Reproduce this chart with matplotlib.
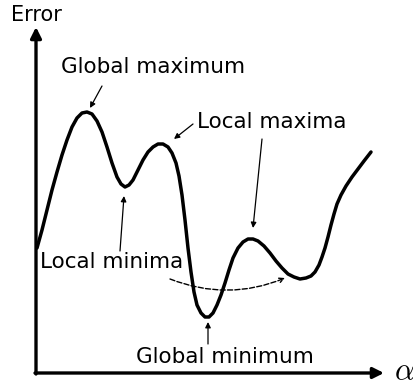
import matplotlib.pyplot as plt

plt.rcParams['mathtext.fontset'] = 'cm'

# curve (pixel-like coordinates, y grows downward)
alpha = [37, 42, 47, 52, 57, 62, 67, 72, 77, 82, 87, 92, 97, 102, 107, 112, 117,
         121, 125, 129, 133, 138, 143, 148, 153, 158, 163, 168, 172, 176, 179,
         182, 185, 188, 191, 194, 197, 201, 205, 209, 213, 217, 221, 225, 229,
         233, 238, 243, 248, 253, 258, 264, 270, 276, 282, 288, 294, 300, 306,
         311, 315, 319, 322, 325, 328, 331, 334, 337, 341, 346, 352, 358, 364, 371]
error = [248, 230, 210, 190, 172, 155, 140, 127, 118, 113, 112, 114, 121, 132,
         147, 163, 177, 184, 187, 185, 180, 170, 160, 152, 147, 144, 144, 147,
         153, 163, 176, 195, 220, 248, 272, 292, 305, 313, 317, 317, 313, 305,
         295, 283, 270, 258, 248, 242, 239, 239, 241, 246, 253, 261, 268, 274,
         277, 279, 278, 276, 272, 265, 257, 248, 237, 225, 214, 204, 195, 186,
         177, 169, 161, 152]

labels = ["Global maximum", "Local maxima", "Local minima", "Global minimum"]

fig = plt.figure(figsize=(4.14, 3.88), dpi=100)
ax = fig.add_axes([0, 0, 1, 1])
ax.set_xlim(0, 414)
ax.set_ylim(388, 0)
ax.axis('off')

# axes with arrows
axis_kw = dict(arrowstyle='-|>', lw=2.4, color='black', mutation_scale=16,
               shrinkA=0, shrinkB=0)
ax.annotate('', xy=(36, 27), xytext=(36, 374), arrowprops=axis_kw)
ax.annotate('', xy=(384, 373), xytext=(35, 373), arrowprops=axis_kw)
ax.text(36, 15, "Error", fontsize=15, ha='center', va='center')
ax.text(394, 372, r"$\alpha$", fontsize=22, ha='left', va='center')

ax.plot(alpha, error, color='black', lw=2.5, solid_capstyle='round',
        solid_joinstyle='round')

arr = dict(arrowstyle='-|>', lw=0.9, color='black', mutation_scale=8,
           shrinkA=0, shrinkB=0)
ax.text(153, 67, labels[0], fontsize=15.5, ha='center', va='center')
ax.annotate('', xy=(90, 108), xytext=(102, 86), arrowprops=arr)

ax.text(272, 122, labels[1], fontsize=15.5, ha='center', va='center')
ax.annotate('', xy=(174, 139), xytext=(193, 124), arrowprops=arr)
ax.annotate('', xy=(253, 228), xytext=(262, 139), arrowprops=arr)

ax.text(112, 262, labels[2], fontsize=15.5, ha='center', va='center')
ax.annotate('', xy=(124, 196), xytext=(120, 251), arrowprops=arr)

ax.text(225, 357, labels[3], fontsize=15.5, ha='center', va='center')
ax.annotate('', xy=(208, 322), xytext=(208, 344), arrowprops=arr)

# dashed jump between the two minima
ax.annotate('', xy=(285, 278), xytext=(170, 279),
            arrowprops=dict(arrowstyle='->', lw=1.0, color='black',
                            linestyle='--', mutation_scale=8,
                            connectionstyle='arc3,rad=0.2',
                            shrinkA=0, shrinkB=0))

fig.savefig('out.png', dpi=100)
